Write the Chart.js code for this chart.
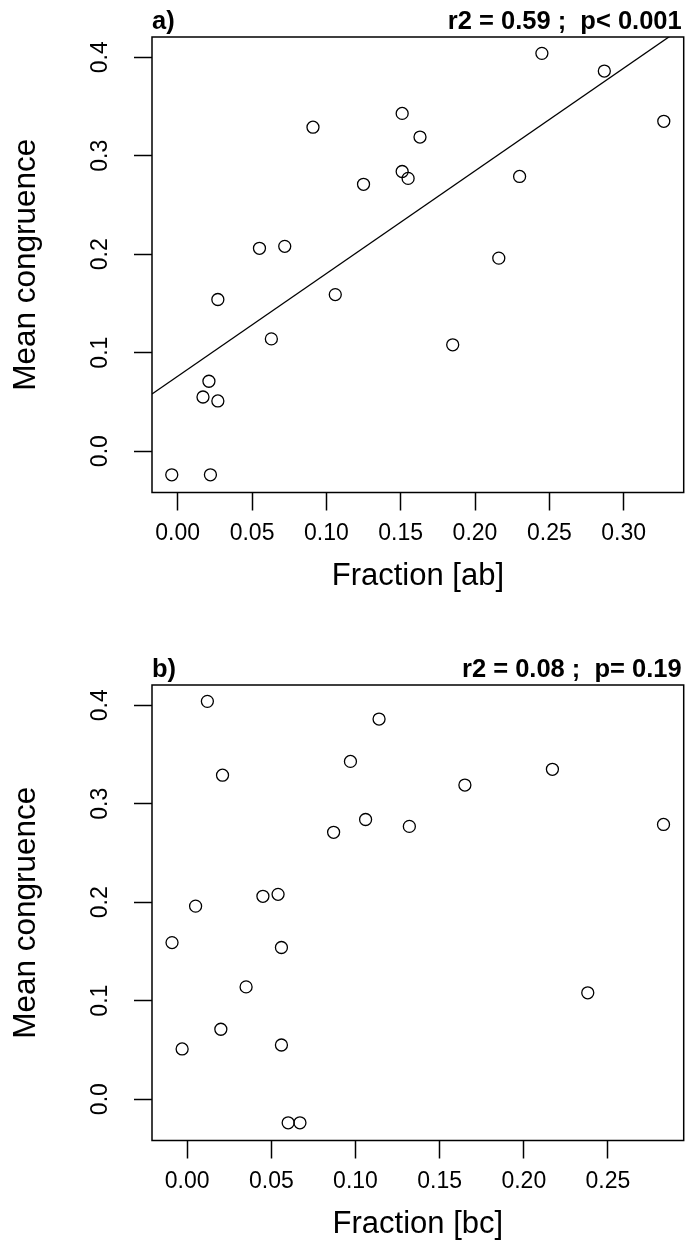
<!DOCTYPE html>
<html>
<head>
<meta charset="utf-8">
<script src="https://cdn.jsdelivr.net/npm/chart.js@4.4.1/dist/chart.umd.min.js"></script>
<style>
html, body { margin: 0; padding: 0; background: #fff; }
body { width: 691px; height: 1243px; position: relative; overflow: hidden; }
.panel { position: absolute; left: 0; width: 691px; height: 595px; }
#panelA { top: 0; }
#panelB { top: 648px; }
</style>
</head>
<body>
<div class="panel" id="panelA"><canvas id="chartA" width="691" height="595"></canvas></div>
<div class="panel" id="panelB"><canvas id="chartB" width="691" height="595"></canvas></div>
<script>
// mean congruence, same sites in both panels
const congruence = [0.404, 0.386, 0.343, 0.335, 0.329, 0.319, 0.284, 0.279, 0.277, 0.271, 0.208,
                    0.206, 0.196, 0.159, 0.154, 0.114, 0.108, 0.071, 0.055, 0.051, -0.024, -0.024];
const fractionAB = [0.245, 0.287, 0.151, 0.327, 0.091, 0.163, 0.151, 0.230, 0.155, 0.125, 0.072,
                    0.055, 0.216, 0.106, 0.027, 0.063, 0.185, 0.021, 0.017, 0.027, -0.004, 0.022];
const fractionBC = [0.012, 0.114, 0.097, 0.217, 0.021, 0.165, 0.106, 0.283, 0.132, 0.087, 0.054,
                    0.045, 0.005, -0.009, 0.056, 0.035, 0.238, 0.020, 0.056, -0.003, 0.060, 0.067];

const yTicks = [0.0, 0.1, 0.2, 0.3, 0.4];
const xTicksAB = [0.00, 0.05, 0.10, 0.15, 0.20, 0.25, 0.30];
const xTicksBC = [0.00, 0.05, 0.10, 0.15, 0.20, 0.25];

// linear fit shown in panel a
const fitIntercept = 0.076;
const fitSlope = 1.043;

const FONT = "'Liberation Sans', Arial, Helvetica, sans-serif";
Chart.defaults.font.family = FONT;
Chart.defaults.color = '#000';

const CANVAS_H = 595;
const AREA_LEFT = 152;
const AREA_BOTTOM = 492.5;

const boxAndHeader = {
    id: 'boxAndHeader',
    afterDraw(chart, args, opts) {
        const { ctx, chartArea: a } = chart;
        ctx.save();
        ctx.strokeStyle = '#000';
        ctx.lineWidth = 1.5;
        ctx.strokeRect(a.left, a.top, a.right - a.left, a.bottom - a.top);
        ctx.fillStyle = '#000';
        ctx.font = 'bold 25.5px ' + FONT;
        ctx.textBaseline = 'alphabetic';
        ctx.textAlign = 'left';
        ctx.fillText(opts.label, a.left, a.top - 8);
        ctx.textAlign = 'right';
        ctx.fillText(opts.stats, a.right - 2, a.top - 8);
        ctx.restore();
    }
};

function makePanel(id, xValues, xMin, xMax, xTicks, xTitle, label, stats, withFit) {
    const points = xValues.map((x, i) => ({ x: x, y: congruence[i] }));
    const datasets = [{
        type: 'scatter',
        data: points,
        pointStyle: 'circle',
        pointRadius: 6,
        pointHoverRadius: 6,
        backgroundColor: 'rgba(0,0,0,0)',
        borderColor: '#000',
        borderWidth: 1.3
    }];
    if (withFit) {
        datasets.push({
            type: 'line',
            data: [xMin, xMax].map(x => ({ x: x, y: fitIntercept + fitSlope * x })),
            borderColor: '#000',
            borderWidth: 1.3,
            pointRadius: 0,
            fill: false
        });
    }
    const tickGrid = {
        drawOnChartArea: false,
        drawTicks: true,
        tickLength: 18,
        tickWidth: 1.5,
        tickColor: '#000'
    };
    return new Chart(document.getElementById(id).getContext('2d'), {
        type: 'scatter',
        data: { datasets: datasets },
        plugins: [boxAndHeader],
        options: {
            responsive: false,
            animation: false,
            devicePixelRatio: 1,
            layout: { padding: { top: 37, right: 2, left: 0, bottom: 0 } },
            plugins: {
                legend: { display: false },
                tooltip: { enabled: false },
                boxAndHeader: { label: label, stats: stats }
            },
            scales: {
                x: {
                    type: 'linear',
                    min: xMin,
                    max: xMax,
                    afterBuildTicks: s => { s.ticks = xTicks.map(v => ({ value: v })); },
                    afterFit: s => { s.height = CANVAS_H - AREA_BOTTOM; },
                    grid: tickGrid,
                    border: { display: false },
                    ticks: {
                        color: '#000',
                        padding: 9,
                        maxRotation: 0,
                        autoSkip: false,
                        font: { size: 23 },
                        callback: v => v.toFixed(2)
                    },
                    title: {
                        display: true,
                        text: xTitle,
                        color: '#000',
                        font: { size: 31 },
                        padding: { top: 0, bottom: 0 }
                    }
                },
                y: {
                    type: 'linear',
                    min: -0.042,
                    max: 0.4206,
                    afterBuildTicks: s => { s.ticks = yTicks.map(v => ({ value: v })); },
                    afterFit: s => { s.width = AREA_LEFT; },
                    grid: tickGrid,
                    border: { display: false },
                    ticks: {
                        color: '#000',
                        padding: 17,
                        minRotation: 90,
                        maxRotation: 90,
                        crossAlign: 'center',
                        autoSkip: false,
                        font: { size: 23 },
                        callback: v => v.toFixed(1)
                    },
                    title: {
                        display: true,
                        text: 'Mean congruence',
                        color: '#000',
                        font: { size: 31.5 },
                        padding: { top: 7, bottom: 0 }
                    }
                }
            }
        }
    });
}

makePanel('chartA', fractionAB, -0.0173, 0.3404, xTicksAB, 'Fraction [ab]', 'a)', 'r2 = 0.59 ;  p< 0.001', true);
makePanel('chartB', fractionBC, -0.0209, 0.2950, xTicksBC, 'Fraction [bc]', 'b)', 'r2 = 0.08 ;  p= 0.19', false);
</script>
</body>
</html>
